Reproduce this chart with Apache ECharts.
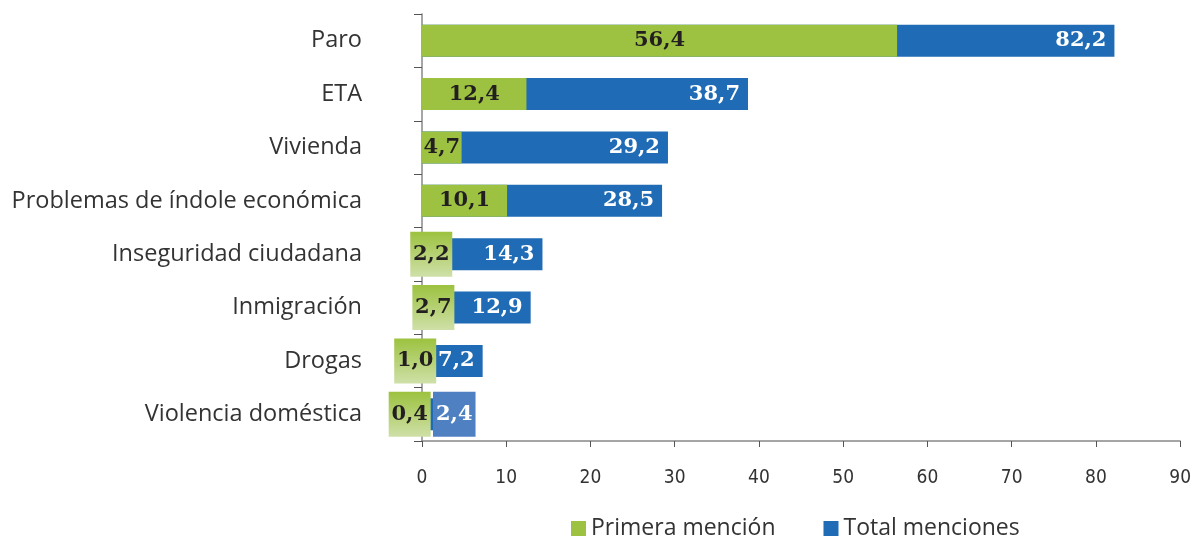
<!DOCTYPE html>
<html><head><meta charset="utf-8">
<script src="https://cdn.jsdelivr.net/npm/echarts@6/dist/echarts.min.js"></script>
<style>html,body{margin:0;padding:0;background:#fff}#c{width:1194px;height:539px}</style>
</head><body><div id="c"></div>
<script>
const categories = ['Paro','ETA','Vivienda','Problemas de índole económica','Inseguridad ciudadana','Inmigración','Drogas','Violencia doméstica'];
const primera = [56.4, 12.4, 4.7, 10.1, 2.2, 2.7, 1.0, 0.4];
const total = [82.2, 38.7, 29.2, 28.5, 14.3, 12.9, 7.2, 2.4];
const xTicks = [0,10,20,30,40,50,60,70,80,90];

const GREEN = '#9dc241', BLUE = '#1f6bb5';
const fmt = v => v.toFixed(1).replace('.', ',');
const labelFont = 'DejaVu Serif';
const greenShift = [0,0,0,0,0,0,-11,-14];

const greenData = primera.map((v,i) => {
  const item = {value: v};
  if (v < 3) {
    item.label = {
      position: 'inside', offset: [greenShift[i], 0],
      width: 42, height: 45, lineHeight: 45, align: 'center', padding: 0,
      backgroundColor: {type:'linear', x:0, y:0, x2:0, y2:1, colorStops:[{offset:0,color:'#9cc23f'},{offset:1,color:'#cfe0a8'}]}
    };
  }
  return item;
});
const blueData = total.map((v,i) => {
  const item = {value: v};
  if (v < 5) {
    item.label = {position: [11, -6.5], align: 'left', verticalAlign: 'top',
      padding: [12, 3], lineHeight: 21, backgroundColor: '#4f81c2'};
  }
  return item;
});

const chart = echarts.init(document.getElementById('c'));
chart.setOption({
  animation: false,
  grid: {left: 422, right: 13, top: 14, bottom: 98, containLabel: false},
  legend: {
    data: ['Primera mención','Total menciones'], top: 512, left: 566,
    itemWidth: 15, itemHeight: 15, itemGap: 48, icon: 'rect',
    textStyle: {fontFamily: 'Open Sans', fontSize: 23, color: '#333'}
  },
  xAxis: {
    type: 'value', min: 0, max: 90, interval: 10,
    axisLine: {show: true, lineStyle: {color: '#888', width: 1.5}},
    axisTick: {show: true, length: 6, lineStyle: {color: '#555'}},
    splitLine: {show: false},
    axisLabel: {margin: 28, fontFamily: 'DejaVu Sans Condensed, DejaVu Sans', fontSize: 19, color: '#333',
      formatter: v => String(v)}
  },
  yAxis: {
    type: 'category', data: categories, inverse: true,
    axisLine: {show: true, lineStyle: {color: '#888', width: 1.5}},
    axisTick: {show: true, length: 8, lineStyle: {color: '#555'}},
    axisLabel: {margin: 60, fontFamily: 'Open Sans', fontSize: 23.5, color: '#333', padding: [6,0,0,0]}
  },
  series: [
    {
      name: 'Total menciones', type: 'bar', data: blueData, barWidth: 32, barGap: '-100%',
      itemStyle: {color: BLUE},
      label: {show: true, position: 'insideRight', distance: 8, formatter: p => fmt(p.value),
        fontFamily: labelFont, fontWeight: 'bold', fontSize: 21, color: '#fff'}
    },
    {
      name: 'Primera mención', type: 'bar', data: greenData, barWidth: 32,
      itemStyle: {color: GREEN},
      label: {show: true, position: 'inside', formatter: p => fmt(p.value),
        fontFamily: labelFont, fontWeight: 'bold', fontSize: 21, color: '#231f20'}
    }
  ]
});
</script></body></html>
